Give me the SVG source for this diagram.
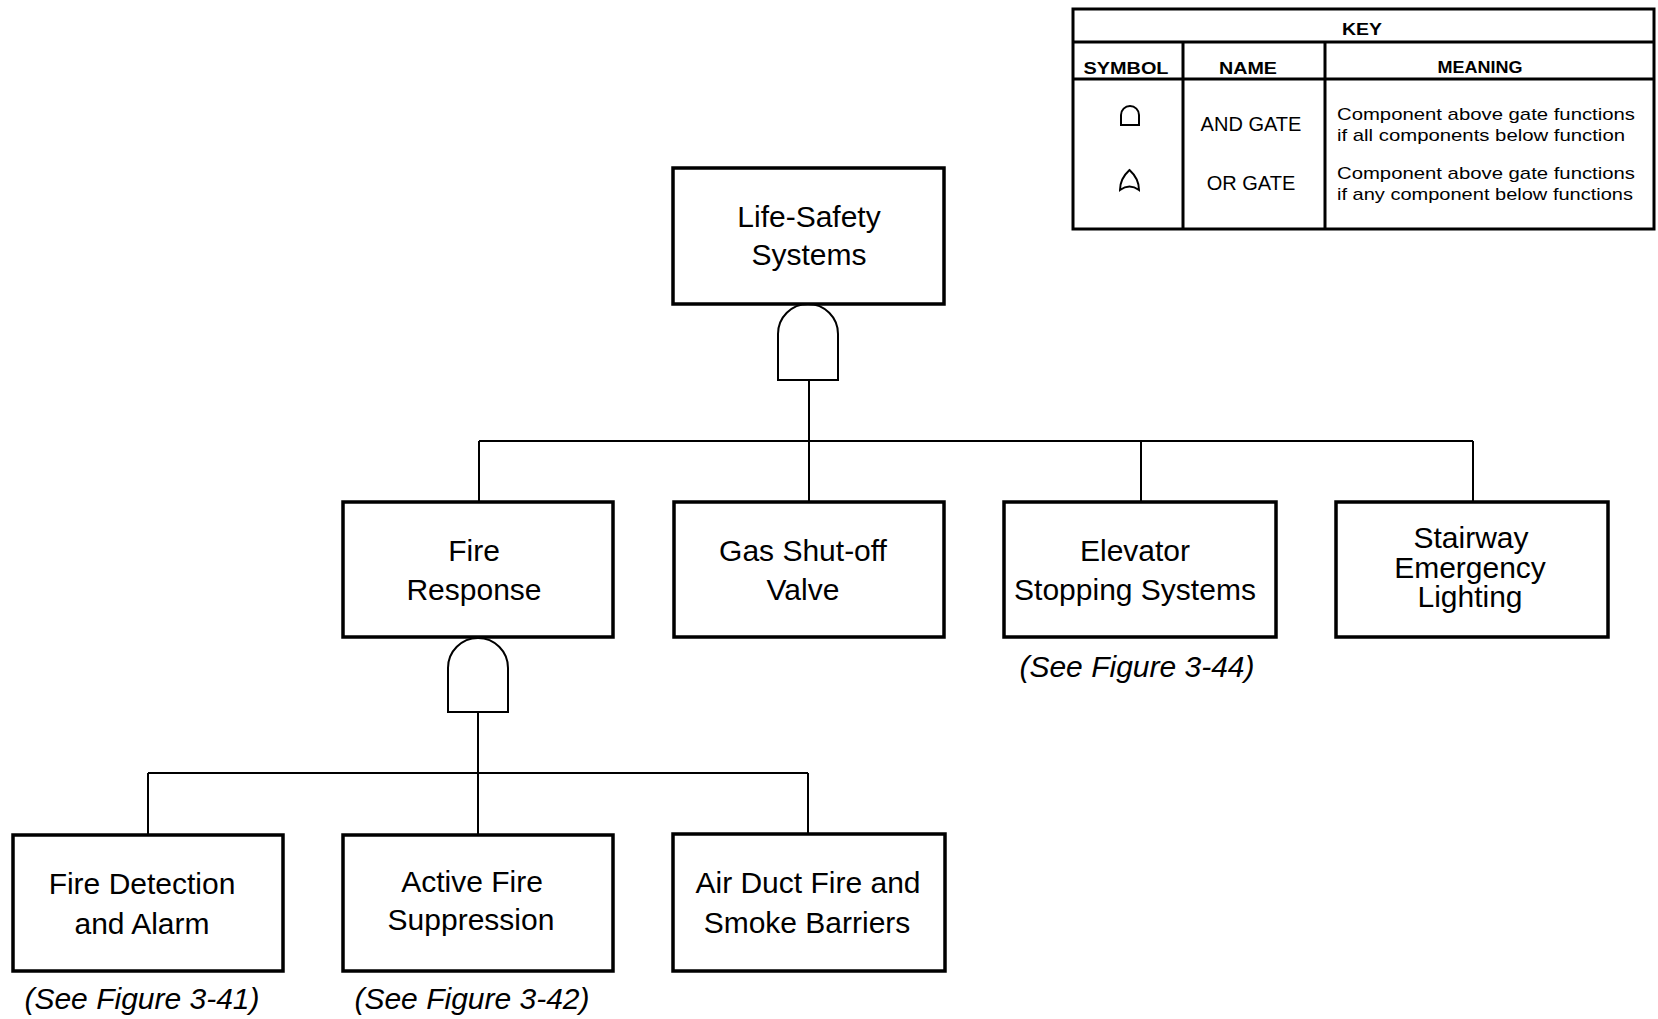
<svg xmlns="http://www.w3.org/2000/svg" width="1658" height="1019" viewBox="0 0 1658 1019">
<style>
.box{fill:#fff;stroke:#000;stroke-width:3.5}
.gate{fill:#fff;stroke:#000;stroke-width:2}
.conn{fill:none;stroke:#000;stroke-width:2}
.t{font-family:"Liberation Sans",Arial,sans-serif;font-size:30px;fill:#000;text-anchor:middle}
.ref{font-family:"Liberation Sans",Arial,sans-serif;font-size:30px;font-style:italic;fill:#000;text-anchor:middle}
.kh{font-family:"Liberation Sans",Arial,sans-serif;font-size:17px;font-weight:bold;fill:#000;text-anchor:middle}
.kn{font-family:"Liberation Sans",Arial,sans-serif;font-size:20px;fill:#000;text-anchor:middle}
.km{font-family:"Liberation Sans",Arial,sans-serif;font-size:17px;fill:#000}
.kline{fill:none;stroke:#000;stroke-width:3}
</style>
<rect width="1658" height="1019" fill="#fff"/>

<g id="connectors">
  <path class="conn" d="M809,380 V502"/>
  <path class="conn" d="M479,441 H1473"/>
  <path class="conn" d="M479,441 V502"/>
  <path class="conn" d="M1141,441 V502"/>
  <path class="conn" d="M1473,441 V502"/>
  <path class="conn" d="M478,712 V835"/>
  <path class="conn" d="M148,773 H808"/>
  <path class="conn" d="M148,773 V835"/>
  <path class="conn" d="M808,773 V834"/>
</g>

<g id="gate-life-safety">
  <path class="gate" d="M778,380 V334 A30,30 0 0 1 838,334 V380 Z"/>
</g>
<g id="gate-fire-response">
  <path class="gate" d="M448,712 V668 A30,30 0 0 1 508,668 V712 Z"/>
</g>

<g id="node-life-safety">
  <rect class="box" x="673" y="168" width="271" height="136"/>
  <text class="t" x="809" y="227">Life-Safety</text>
  <text class="t" x="809" y="265">Systems</text>
</g>

<g id="node-fire-response">
  <rect class="box" x="343" y="502" width="270" height="135"/>
  <text class="t" x="474" y="561">Fire</text>
  <text class="t" x="474" y="600">Response</text>
</g>

<g id="node-gas">
  <rect class="box" x="674" y="502" width="270" height="135"/>
  <text class="t" x="803" y="561">Gas Shut-off</text>
  <text class="t" x="803" y="600">Valve</text>
</g>

<g id="node-elevator">
  <rect class="box" x="1004" y="502" width="272" height="135"/>
  <text class="t" x="1135" y="561">Elevator</text>
  <text class="t" x="1135" y="600">Stopping Systems</text>
  <text class="ref" x="1137" y="677">(See Figure 3-44)</text>
</g>

<g id="node-stairway">
  <rect class="box" x="1336" y="502" width="272" height="135"/>
  <text class="t" x="1471" y="548">Stairway</text>
  <text class="t" x="1470" y="578">Emergency</text>
  <text class="t" x="1470" y="607">Lighting</text>
</g>

<g id="node-fire-detection">
  <rect class="box" x="13" y="835" width="270" height="136"/>
  <text class="t" x="142" y="894">Fire Detection</text>
  <text class="t" x="142" y="934">and Alarm</text>
  <text class="ref" x="142" y="1009">(See Figure 3-41)</text>
</g>

<g id="node-active-fire">
  <rect class="box" x="343" y="835" width="270" height="136"/>
  <text class="t" x="472" y="892">Active Fire</text>
  <text class="t" x="471" y="930">Suppression</text>
  <text class="ref" x="472" y="1009">(See Figure 3-42)</text>
</g>

<g id="node-air-duct">
  <rect class="box" x="673" y="834" width="272" height="137"/>
  <text class="t" x="808" y="893">Air Duct Fire and</text>
  <text class="t" x="807" y="933">Smoke Barriers</text>
</g>

<g id="key">
  <rect class="kline" x="1073" y="9" width="581" height="220" fill="#fff"/>
  <path class="kline" d="M1073,42 H1654 M1073,79 H1654 M1183,42 V229 M1325,42 V229"/>
  <text class="kh" x="1362" y="35" textLength="40" lengthAdjust="spacingAndGlyphs">KEY</text>
  <text class="kh" x="1126" y="74" textLength="85" lengthAdjust="spacingAndGlyphs">SYMBOL</text>
  <text class="kh" x="1248" y="74" textLength="58" lengthAdjust="spacingAndGlyphs">NAME</text>
  <text class="kh" x="1480" y="73" textLength="85" lengthAdjust="spacingAndGlyphs">MEANING</text>
  <path class="gate" d="M1121,125 V115 A9,9 0 0 1 1139,115 V125 Z" stroke-width="1.6"/>
  <path class="gate" d="M1120,190 C1120,181 1124,175 1129.5,170 C1135,175 1139,181 1139,190 Q1129.5,183 1120,190 Z" stroke-width="1.6"/>
  <text class="kn" x="1251" y="131">AND GATE</text>
  <text class="kn" x="1251" y="190">OR GATE</text>
  <text class="km" x="1337" y="120" textLength="298" lengthAdjust="spacingAndGlyphs">Component above gate functions</text>
  <text class="km" x="1337" y="141" textLength="288" lengthAdjust="spacingAndGlyphs">if all components below function</text>
  <text class="km" x="1337" y="179" textLength="298" lengthAdjust="spacingAndGlyphs">Component above gate functions</text>
  <text class="km" x="1337" y="200" textLength="296" lengthAdjust="spacingAndGlyphs">if any component below functions</text>
</g>
</svg>
